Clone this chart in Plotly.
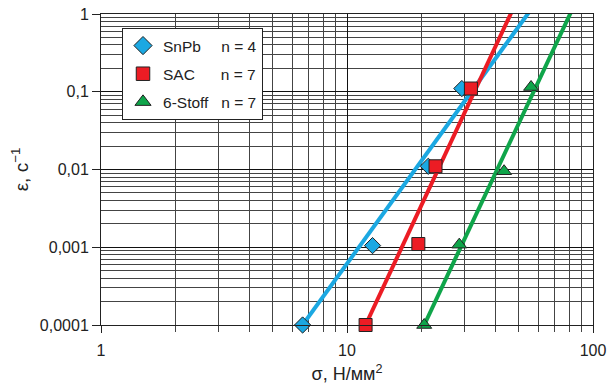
import plotly.graph_objects as go

# ---- data ----
snpb_x = [6.6, 12.7, 21.4, 29.3]
snpb_y = [0.0001, 0.00105, 0.011, 0.11]
sac_x = [11.9, 19.5, 22.9, 31.9]
sac_y = [0.0001, 0.0011, 0.011, 0.11]
stoff_x = [20.6, 28.6, 43.5, 56.0]
stoff_y = [0.0001, 0.00108, 0.0095, 0.115]

# regression lines (start / end points)
snpb_fit_x = [6.6, 56.5]
snpb_fit_y = [0.0001, 1.19]
sac_fit_x = [11.9, 47.4]
sac_fit_y = [0.0001, 1.18]
stoff_fit_x = [20.6, 82.7]
stoff_fit_y = [0.0001, 1.18]

series_names = ["SnPb", "SAC", "6-Stoff"]
series_n = ["n = 4", "n = 7", "n = 7"]
name_pad = ["\u00a0\u00a0\u00a0\u00a0\u2009", "\u00a0\u00a0\u00a0\u00a0\u00a0\u00a0", "\u00a0\u00a0\u00a0"]

x_tickvals = [1, 10, 100]
x_ticktext = ["1", "10", "100"]
y_tickvals = [0.0001, 0.001, 0.01, 0.1, 1]
y_ticktext = ["0,0001", "0,001", "0,01", "0,1", "1"]

BLUE = "#1BA8E2"
RED = "#EC1C24"
GREEN = "#0FA54A"
FONT = "Liberation Sans, Arial, sans-serif"

fig = go.Figure()

fits = [(snpb_fit_x, snpb_fit_y, BLUE), (sac_fit_x, sac_fit_y, RED), (stoff_fit_x, stoff_fit_y, GREEN)]
for fx, fy, c in fits:
    fig.add_trace(go.Scatter(x=fx, y=fy, mode="lines", line=dict(color=c, width=4),
                             showlegend=False, hoverinfo="skip"))

pts = [(snpb_x, snpb_y, BLUE, "diamond", 12.5, 14),
       (sac_x, sac_y, RED, "square", 13, 13.5),
       (stoff_x, stoff_y, GREEN, "triangle-up", 13, 14)]
for i, (px, py, c, sym, sz, lsz) in enumerate(pts):
    fig.add_trace(go.Scatter(
        x=px, y=py, mode="markers", showlegend=False,
        marker=dict(color=c, symbol=sym, size=sz, line=dict(color="#222222", width=1)),
        cliponaxis=False,
    ))
    # legend-only entry (no data) with the legend's slightly larger symbol
    fig.add_trace(go.Scatter(
        x=[None], y=[None], mode="markers",
        name=series_names[i] + name_pad[i] + series_n[i],
        legendgroup=series_names[i],
        marker=dict(color=c, symbol=sym, size=lsz, line=dict(color="#222222", width=1)),
    ))

fig.update_layout(
    width=613, height=388,
    margin=dict(l=101, r=20, t=14, b=63, autoexpand=False),
    paper_bgcolor="white", plot_bgcolor="white",
    font=dict(family=FONT, size=16, color="#222222"),
    legend=dict(
        x=0.0427, y=0.955, xanchor="left", yanchor="top",
        bgcolor="white", bordercolor="#222222", borderwidth=1,
        font=dict(family=FONT, size=15.5, color="#222222"),
        tracegroupgap=5, itemsizing="trace",
    ),
    showlegend=True,
)

fig.update_xaxes(
    type="log", range=[0, 2], automargin=False,
    tickmode="array", tickvals=x_tickvals, ticktext=x_ticktext,
    ticks="outside", ticklen=7, tickcolor="#222222", tickwidth=1,
    ticklabelstandoff=4,
    showline=True, linecolor="#222222", linewidth=1, mirror=True,
    showgrid=True, gridcolor="#111111", gridwidth=1,
    minor=dict(dtick="D1", showgrid=True, gridcolor="#444444", gridwidth=1,
               ticks="outside", ticklen=6, tickcolor="#444444"),
    title=dict(text="σ, Н/мм<sup>2</sup>", font=dict(size=18), standoff=9),
    zeroline=False,
)
fig.update_yaxes(
    type="log", range=[-4, 0], automargin=False,
    tickmode="array", tickvals=y_tickvals, ticktext=y_ticktext,
    ticks="outside", ticklen=8, tickcolor="#222222", tickwidth=1,
    showline=True, linecolor="#222222", linewidth=1, mirror=True,
    showgrid=True, gridcolor="#111111", gridwidth=1,
    minor=dict(dtick="D1", showgrid=True, gridcolor="#444444", gridwidth=1),
    title=dict(text="ε, с<sup>−1</sup>", font=dict(size=19), standoff=6),
    zeroline=False,
)

fig.write_html("out.html")
